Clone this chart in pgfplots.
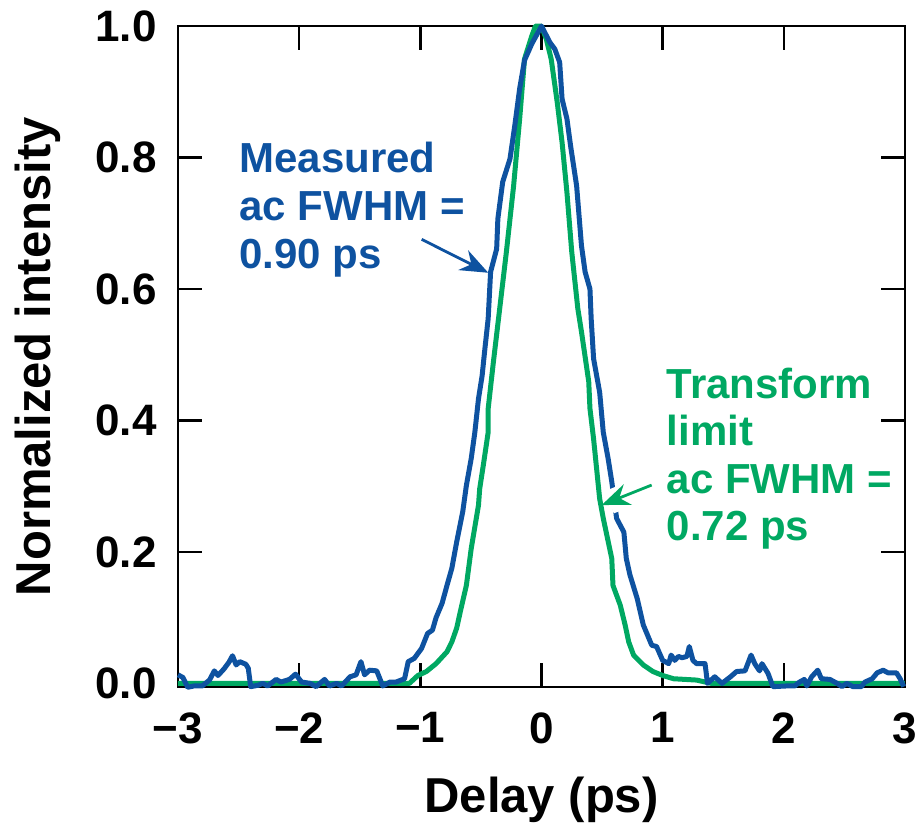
\documentclass[border=0pt]{standalone}
\usepackage{fontspec}
\setmainfont{Liberation Sans}
\usepackage{pgfplots}
\pgfplotsset{compat=1.18}
\usetikzlibrary{arrows.meta}
\definecolor{mblue}{RGB}{14,82,160}
\definecolor{tgreen}{RGB}{0,168,98}

\pgfplotstableread{
x y
-3.00 0.013
-2.96 0.009
-2.92 -0.006
-2.87 -0.004
-2.80 -0.004
-2.74 0.005
-2.70 0.019
-2.67 0.012
-2.62 0.022
-2.58 0.032
-2.55 0.042
-2.52 0.028
-2.49 0.033
-2.44 0.029
-2.42 0.023
-2.40 -0.005
-2.34 -0.003
-2.30 0.000
-2.26 -0.004
-2.19 0.006
-2.15 0.002
-2.08 0.006
-2.03 0.014
-1.98 0.002
-1.91 0.000
-1.86 -0.005
-1.79 0.006
-1.75 -0.004
-1.69 0.000
-1.65 -0.004
-1.58 0.010
-1.53 0.013
-1.49 0.033
-1.46 0.013
-1.42 0.020
-1.36 0.019
-1.31 -0.004
-1.25 0.002
-1.20 0.002
-1.13 0.007
-1.10 0.033
-1.05 0.038
-0.99 0.053
-0.94 0.076
-0.90 0.081
-0.87 0.100
-0.82 0.122
-0.78 0.149
-0.74 0.175
-0.70 0.215
-0.65 0.261
-0.62 0.301
-0.58 0.342
-0.55 0.382
-0.52 0.433
-0.49 0.468
-0.47 0.504
-0.44 0.555
-0.42 0.626
-0.37 0.661
-0.36 0.707
-0.32 0.763
-0.26 0.798
-0.22 0.849
-0.18 0.905
-0.14 0.948
-0.08 0.973
0.00 1.000
0.07 0.975
0.11 0.965
0.15 0.945
0.17 0.889
0.21 0.859
0.24 0.818
0.29 0.757
0.33 0.666
0.36 0.626
0.40 0.600
0.41 0.555
0.43 0.494
0.48 0.443
0.51 0.382
0.55 0.342
0.58 0.307
0.62 0.251
0.68 0.230
0.70 0.190
0.73 0.165
0.79 0.129
0.84 0.089
0.91 0.058
0.95 0.056
1.00 0.035
1.05 0.030
1.07 0.043
1.10 0.035
1.13 0.041
1.16 0.039
1.20 0.041
1.22 0.056
1.25 0.035
1.28 0.030
1.35 0.030
1.37 0.000
1.43 0.010
1.49 0.000
1.56 0.010
1.61 0.018
1.68 0.019
1.73 0.043
1.76 0.030
1.80 0.019
1.82 0.030
1.87 0.015
1.91 -0.005
2.02 -0.004
2.09 -0.004
2.13 0.002
2.17 0.006
2.19 -0.004
2.23 0.010
2.28 0.020
2.31 0.007
2.38 0.006
2.44 0.000
2.48 -0.005
2.52 0.000
2.57 -0.005
2.64 -0.005
2.67 0.002
2.73 0.007
2.77 0.016
2.82 0.020
2.86 0.016
2.93 0.016
2.96 0.007
2.99 -0.005
}\measured

\pgfplotstableread{
x y
-3.00 0.000
-1.09 0.000
-1.02 0.012
-0.95 0.018
-0.87 0.030
-0.78 0.048
-0.74 0.063
-0.70 0.084
-0.67 0.109
-0.62 0.149
-0.58 0.205
-0.52 0.271
-0.51 0.296
-0.48 0.332
-0.44 0.382
-0.44 0.418
-0.40 0.484
-0.345 0.570
-0.29 0.656
-0.23 0.757
-0.18 0.859
-0.14 0.950
-0.08 0.985
-0.05 1.000
0.00 1.000
0.04 0.980
0.08 0.950
0.13 0.884
0.17 0.823
0.21 0.747
0.25 0.656
0.30 0.570
0.33 0.535
0.39 0.459
0.40 0.418
0.43 0.372
0.48 0.281
0.51 0.251
0.58 0.190
0.59 0.149
0.65 0.119
0.69 0.089
0.72 0.063
0.76 0.043
0.84 0.028
0.92 0.018
1.00 0.012
1.09 0.007
1.28 0.005
1.40 0.000
3.00 0.000
}\transform

\begin{document}
\begin{tikzpicture}
\begin{axis}[name=ax, scale only axis, width=363.5pt, height=330.6pt,
  xmin=-3, xmax=3, ymin=-0.006, ymax=1.0,
  xtick={-3,-2,-1,0,1,2,3}, xticklabels={−3,−2,−1,0,1,2,3},
  ytick={0,0.2,0.4,0.6,0.8,1.0}, yticklabels={0.0,0.2,0.4,0.6,0.8,1.0},
  tick align=inside, major tick length=12pt,
  every tick/.style={black, line width=1.2pt},
  axis line style={line width=1.2pt},
  tick label style={font=\fontsize{22}{26}\selectfont\bfseries, inner sep=0pt},
  xticklabel style={yshift=-12.5pt},
  yticklabel style={xshift=-10.5pt},
  xlabel={Delay (ps)}, ylabel={Normalized intensity},
  label style={font=\fontsize{24.5}{28}\selectfont\bfseries},
  xlabel style={at={(axis description cs:0.5,-0.19)}, anchor=base},
  ylabel style={at={(axis description cs:-0.175,0.5)}, anchor=base},
  clip=false]
\addplot[tgreen, line width=2.5pt, line join=round] table[x=x,y=y] {\transform};
\addplot[mblue, line width=2.5pt, line join=round] table[x=x,y=y] {\measured};
\node[anchor=base west, text=mblue, font=\fontsize{21}{25}\selectfont\bfseries] at (axis cs:-2.55,0.7768) {Measured};
\node[anchor=base west, text=mblue, font=\fontsize{21}{25}\selectfont\bfseries] at (axis cs:-2.55,0.7038) {ac FWHM =};
\node[anchor=base west, text=mblue, font=\fontsize{21}{25}\selectfont\bfseries] at (axis cs:-2.55,0.6314) {0.90 ps};
\node[anchor=base west, text=tgreen, font=\fontsize{21}{25}\selectfont\bfseries] at (axis cs:0.975,0.4336) {Transform};
\node[anchor=base west, text=tgreen, font=\fontsize{21}{25}\selectfont\bfseries] at (axis cs:0.975,0.3626) {limit};
\node[anchor=base west, text=tgreen, font=\fontsize{21}{25}\selectfont\bfseries] at (axis cs:0.975,0.2891) {ac FWHM =};
\node[anchor=base west, text=tgreen, font=\fontsize{21}{25}\selectfont\bfseries] at (axis cs:0.975,0.2180) {0.72 ps};
\draw[mblue, line width=1.4pt, -{Stealth[length=14pt,width=11pt]}] (axis cs:-0.989,0.6755) -- (axis cs:-0.439,0.6247);
\draw[white, line width=12pt] (axis cs:0.80,0.2935) -- (axis cs:0.56,0.2755);
\draw[tgreen, line width=1.4pt, -{Stealth[length=14pt,width=11pt]}] (axis cs:0.909,0.3017) -- (axis cs:0.497,0.2713);
\end{axis}
\pgfresetboundingbox
\path (ax.south west) ++(-89pt,-68.85pt) rectangle ++(459pt,412.5pt);
\end{tikzpicture}
\end{document}
